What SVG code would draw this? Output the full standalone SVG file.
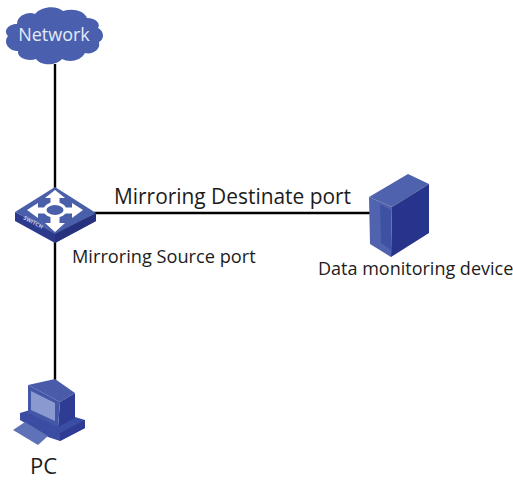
<svg xmlns="http://www.w3.org/2000/svg" width="513" height="480" viewBox="0 0 513 480">
<style>
text{font-family:"Open Sans","Noto Sans","Liberation Sans",sans-serif;fill:#1c1c1c}
.c{stroke:#000;stroke-width:2.4;fill:none}
</style>
<rect width="513" height="480" fill="#fff"/>
<g id="connectors">
<path class="c" d="M55 64V188"/>
<path class="c" d="M55 240V382"/>
<path class="c" d="M94 213H370"/>
</g>
<g id="network">
<path fill="#4a60ae" d="M17 24C17 15 29 11 35 14C41 6 57 5 63 11C72 8 84 10 87 18C96 18 101 24 98 28C104 31 105 39 99 42C101 50 92 55 85 53C81 61 69 63 62 59C56 66 41 66 36 59C28 62 17 58 18 51C8 51 3 42 8 36C3 31 8 24 17 24Z"/>
<text x="54" y="41" text-anchor="middle" font-size="18" style="fill:#e4ebf6">Network</text>
</g>
<g id="switch">
<path fill="#2c3a8c" d="M15 212L55 233L96 213V221L55 243L15 221Z"/>
<path fill="#27327f" d="M55 233L96 213V221L55 243Z"/>
<path fill="#4a5fa9" d="M15 212L55 187L96 213L55 234Z"/>
<g fill="#fff">
<path d="M55 190L65 198H59.500V205H50.500V198H45Z"/>
<path d="M55 232L45 223H50.500V216H59.500V223H65Z"/>
<path d="M27 210L38 203V207.500H45V213.500H38V218Z"/>
<path d="M83 210L72 203V207.500H65V213.500H72V218Z"/>
</g>
<ellipse cx="55" cy="210" rx="10" ry="6.500" fill="#4a5fa9" stroke="#fff" stroke-width="3"/>
<text transform="translate(23 219) rotate(28)" font-size="5.500" font-weight="700" style="fill:#c5cdea">SWITCH</text>
</g>
<g id="server">
<path fill="#4f62ad" d="M369 197L408 174L429 184L392 207Z"/>
<path fill="#5163ae" d="M369 197L392 207L391 257L370 244Z"/>
<path fill="#3f51a3" d="M380 204L391 210V250L381 243Z"/>
<path fill="#26348c" d="M392 207L429 184V233L391 257Z"/>
</g>
<g id="pc">
<path fill="#3a4da2" d="M20 413L30 410L58 426L75 417L85 420V428L60 441L48 437L25 423L20 420Z"/>
<path fill="#2e3c94" d="M60 433L85 420V428L60 441Z"/>
<path fill="#5f72b8" d="M13 430L25 422L48 436L38 445Z"/>
<path fill="#4a5ca9" d="M28 385L55 379L75 393L60 402Z"/>
<path fill="#2e3c94" d="M60 402L75 393V418L58 427Z"/>
<path fill="#4456a6" d="M28 385L60 402L58 427L28 413Z"/>
<path fill="#8a9ad0" d="M31 391L55 403V421L31 410Z"/>
</g>
<g id="labels">
<text x="114" y="204" font-size="20.900">Mirroring Destinate port</text>
<text x="72" y="263" font-size="18.200">Mirroring Source port</text>
<text x="318" y="275" font-size="18">Data monitoring device</text>
<text x="30" y="474" font-size="22">PC</text>
</g>
</svg>
